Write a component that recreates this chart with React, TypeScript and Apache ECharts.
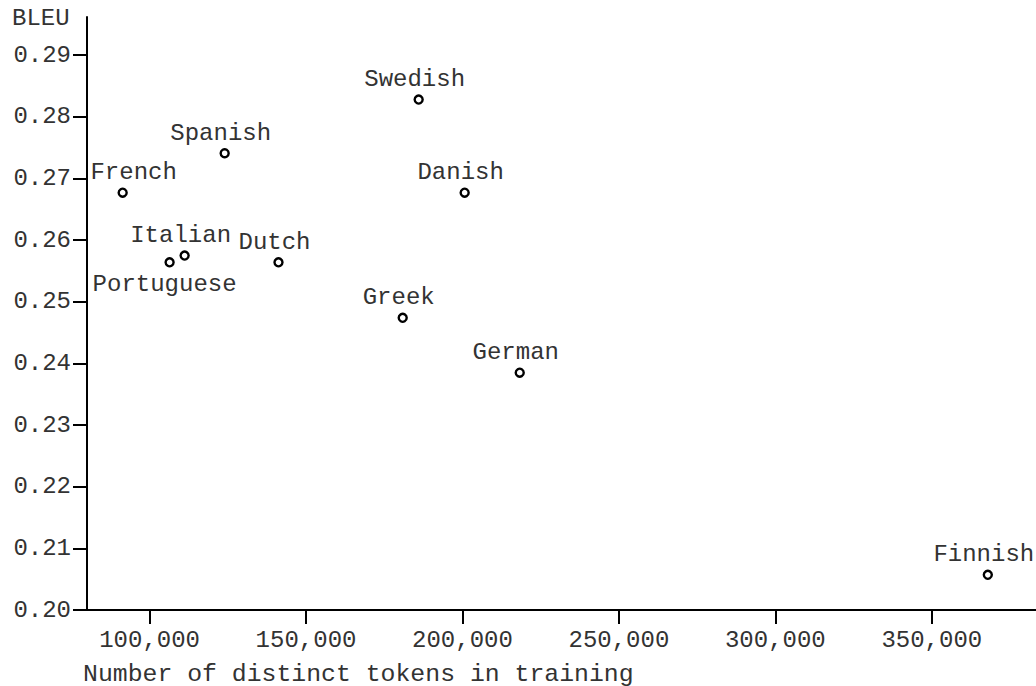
import React, { useEffect, useRef } from "react";
import * as echarts from "echarts";

const languages = ["French", "Spanish", "Swedish", "Danish", "Italian", "Portuguese", "Dutch", "Greek", "German", "Finnish"];
const tokens = [91400, 124000, 186000, 200700, 111200, 106400, 141200, 180900, 218300, 367900];
const bleu = [0.2677, 0.2741, 0.2828, 0.2677, 0.2575, 0.2564, 0.2564, 0.2474, 0.2385, 0.2057];
const xTicks = [100000, 150000, 200000, 250000, 300000, 350000];
const yTicks = [0.2, 0.21, 0.22, 0.23, 0.24, 0.25, 0.26, 0.27, 0.28, 0.29];
const yTitle = "BLEU";
const xTitle = "Number of distinct tokens in training";

const FONT = "Liberation Mono";
const TEXT = "#333";

export default function App() {
  const ref = useRef<HTMLDivElement>(null);
  useEffect(() => {
    if (!ref.current) return;
    const chart = echarts.init(ref.current, null, { renderer: "svg" });
    const data = languages.map((name, i) => {
      const item: any = { name, value: [tokens[i], bleu[i]] };
      if (name === "Portuguese") {
        item.label = { position: "bottom", distance: 5, offset: [-5, 0] };
      } else if (name === "French") {
        item.label = { offset: [11, 0] };
      }
      return item;
    });
    chart.setOption({
      animation: false,
      backgroundColor: "#fff",
      grid: { left: 87, right: 0, top: 17, bottom: 76, containLabel: false, outerBoundsMode: "none" },
      xAxis: {
        type: "value",
        min: 80000,
        max: 383300,
        splitLine: { show: false },
        axisLine: { show: true, onZero: false, lineStyle: { color: "#000", width: 2 } },
        axisTick: { show: true, length: 14, customValues: xTicks, lineStyle: { color: "#000", width: 2 } },
        axisLabel: {
          customValues: xTicks,
          margin: 18,
          fontFamily: FONT,
          fontSize: 24,
          color: TEXT,
          formatter: (v: number) => v.toLocaleString("en-US"),
        },
      },
      yAxis: {
        type: "value",
        min: 0.2,
        max: 0.2962,
        splitLine: { show: false },
        axisLine: { show: true, onZero: false, lineStyle: { color: "#000", width: 2 } },
        axisTick: { show: true, length: 14, customValues: yTicks, lineStyle: { color: "#000", width: 2 } },
        axisLabel: {
          customValues: yTicks,
          margin: 16,
          fontFamily: FONT,
          fontSize: 24,
          color: TEXT,
          formatter: (v: number) => v.toFixed(2),
        },
      },
      graphic: [
        {
          type: "text",
          left: 12,
          top: 6,
          style: { text: yTitle, fontFamily: FONT, fontSize: 24, fill: TEXT },
        },
        {
          type: "text",
          left: 83,
          top: 661,
          style: { text: xTitle, fontFamily: FONT, fontSize: 24.8, fill: TEXT },
        },
      ],
      series: [
        {
          type: "scatter",
          data,
          symbol: "circle",
          symbolSize: 8,
          itemStyle: { color: "#fff", borderColor: "#000", borderWidth: 2.4, opacity: 1 },
          label: {
            show: true,
            position: "top",
            distance: 3,
            offset: [-4, 0],
            formatter: (p: any) => p.name,
            fontFamily: FONT,
            fontSize: 24,
            color: TEXT,
          },
          emphasis: { disabled: true },
        },
      ],
    });
    return () => chart.dispose();
  }, []);
  return <div ref={ref} style={{ position: "fixed", left: 0, top: 0, width: 1036, height: 686 }} />;
}
